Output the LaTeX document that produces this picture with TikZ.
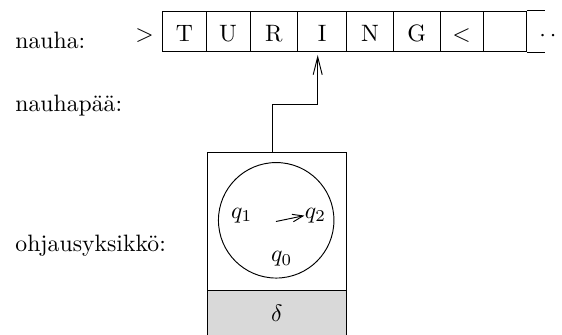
\documentclass[tikz,border=0pt]{standalone}
\usetikzlibrary{arrows.meta}
\newcommand{\pu}{0.422pt}
\begin{document}
\begin{tikzpicture}[x=0.422pt, y=-0.422pt, line width=0.4pt,
  lbl/.style={inner sep=0pt, anchor=base west},
  sym/.style={inner sep=0pt, anchor=base},
  cell/.style={draw, inner sep=0pt, minimum height=40.7*\pu,
    text height=8.74pt, text depth=0pt},
  head/.style={-{Straight Barb[length=7.5pt,width=3.8pt]}},
  small head/.style={-{Straight Barb[length=4.5pt,width=3.2pt]}}]
\useasboundingbox (0,0) rectangle (562,335);

% row labels
\node[lbl] (ltape) at (15,48.3) {nauha:};
\node[lbl] (lhead) at (15,111.7) {nauhapää:};
\node[lbl] (lctrl) at (15,251.7) {ohjausyksikkö:};

% tape
\node[sym] (start) at (144.5,41.9) {$>$};
\node[cell, minimum width=43.3*\pu] (c1) at (184.35,31.35) {T};
\node[cell, minimum width=44*\pu]   (c2) at (228,31.35) {U};
\node[cell, minimum width=47.7*\pu] (c3) at (273.85,31.35) {R};
\node[cell, minimum width=49*\pu]   (c4) at (322.2,31.35) {I};
\node[cell, minimum width=46.6*\pu] (c5) at (370,31.35) {N};
\node[cell, minimum width=46.7*\pu] (c6) at (416.65,31.35) {G};
\node[cell, minimum width=43.3*\pu] (c7) at (461.65,31.35) {$<$};
\node[cell, minimum width=43.4*\pu] (c8) at (505,31.35) {};
\draw (c8.north east) -- ++(18.3,0);
\draw (c8.south east) -- ++(18.3,0);
\node[sym] (more) at (548,41.9) {$\cdotp\cdotp$};

% control unit
\node[draw, inner sep=0pt, minimum width=139*\pu, minimum height=137.3*\pu]
  (ctrl) at (276.8,221.35) {};
\node[draw, fill={rgb,255:red,217;green,217;blue,217}, inner sep=0pt,
  minimum width=139*\pu, minimum height=55*\pu] (delta) at (276.8,317.5) {};
\node[inner sep=0pt] (dlabel) at (276.8,313) {$\delta$};
\node[draw, circle, inner sep=0pt, minimum size=115.5*\pu] (states) at (276.2,220.3) {};
\node[sym] (q1) at (241.7,218.4) {$q_1$};
\node[sym] (q2) at (315.5,218.4) {$q_2$};
\node[sym] (q0) at (281.7,261.8) {$q_0$};
\coordinate (qa) at (276,221.5);
\draw[small head] (qa) -- (q2.west);

% tape head
\coordinate (foot) at (272.3,152.7);
\coordinate (tip) at (317.7,55);
\draw[head] (foot) -- ++(0,-48.7) -| (tip);
\end{tikzpicture}
\end{document}
